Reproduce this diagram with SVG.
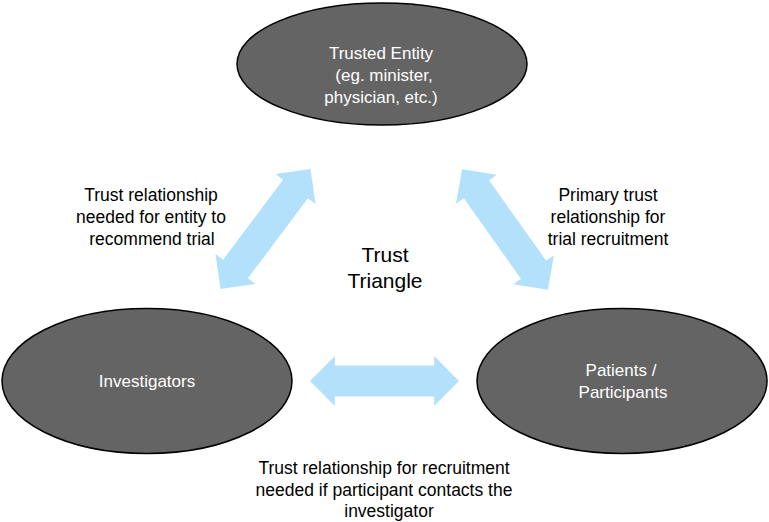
<svg xmlns="http://www.w3.org/2000/svg" xmlns:xlink="http://www.w3.org/1999/xlink" width="769" height="522" viewBox="0 0 769 522">
<style>
.node{fill:#646464;stroke:#000;stroke-width:1.5}
.nt{font-family:"Liberation Sans",Arial,sans-serif;font-size:17px;fill:#fff;text-anchor:middle}
.lbl{font-family:"Liberation Sans",Arial,sans-serif;font-size:17.5px;fill:#000;text-anchor:middle}
.big{font-family:"Liberation Sans",Arial,sans-serif;font-size:21px;fill:#000;text-anchor:middle}
.arr{fill:#b3e1fc}
</style>
<defs>
<path id="dbl" d="M-75,0 L-50,-25 L-50,-15.5 L50,-15.5 L50,-25 L75,0 L50,25 L50,15.5 L-50,15.5 L-50,25 Z"/>
</defs>
<rect width="769" height="522" fill="#fff"/>
<g id="connectors">
<use xlink:href="#dbl" class="arr" transform="translate(265.5,229) rotate(-53.1)"/>
<use xlink:href="#dbl" class="arr" transform="translate(505,229.5) rotate(54.6) scale(0.987,1)"/>
<use xlink:href="#dbl" class="arr" transform="translate(384.5,381) scale(0.993,1)"/>
</g>
<g id="trusted-entity">
<ellipse class="node" cx="382" cy="64" rx="145" ry="61"/>
<text class="nt" x="381" y="59">Trusted Entity</text>
<text class="nt" x="384" y="81"> (eg. minister,</text>
<text class="nt" x="381" y="103">physician, etc.)</text>
</g>
<g id="investigators">
<ellipse class="node" cx="147" cy="381" rx="145" ry="72.5"/>
<text class="nt" x="147" y="387">Investigators</text>
</g>
<g id="patients">
<ellipse class="node" cx="622" cy="381" rx="145" ry="72.5"/>
<text class="nt" x="621" y="376">Patients /</text>
<text class="nt" x="623" y="398"> Participants</text>
</g>
<g id="labels">
<text class="lbl" x="151" y="201">Trust relationship</text>
<text class="lbl" x="151" y="223">needed for entity to</text>
<text class="lbl" x="152" y="245"> recommend trial</text>
<text class="lbl" x="608" y="201">Primary trust</text>
<text class="lbl" x="608" y="223">relationship for</text>
<text class="lbl" x="608" y="245">trial recruitment</text>
<text class="big" x="385" y="262">Trust</text>
<text class="big" x="385" y="288">Triangle</text>
<text class="lbl" x="384" y="474">Trust relationship for recruitment</text>
<text class="lbl" x="384" y="496">needed if participant contacts the</text>
<text class="lbl" x="389" y="517">investigator</text>
</g>
</svg>
